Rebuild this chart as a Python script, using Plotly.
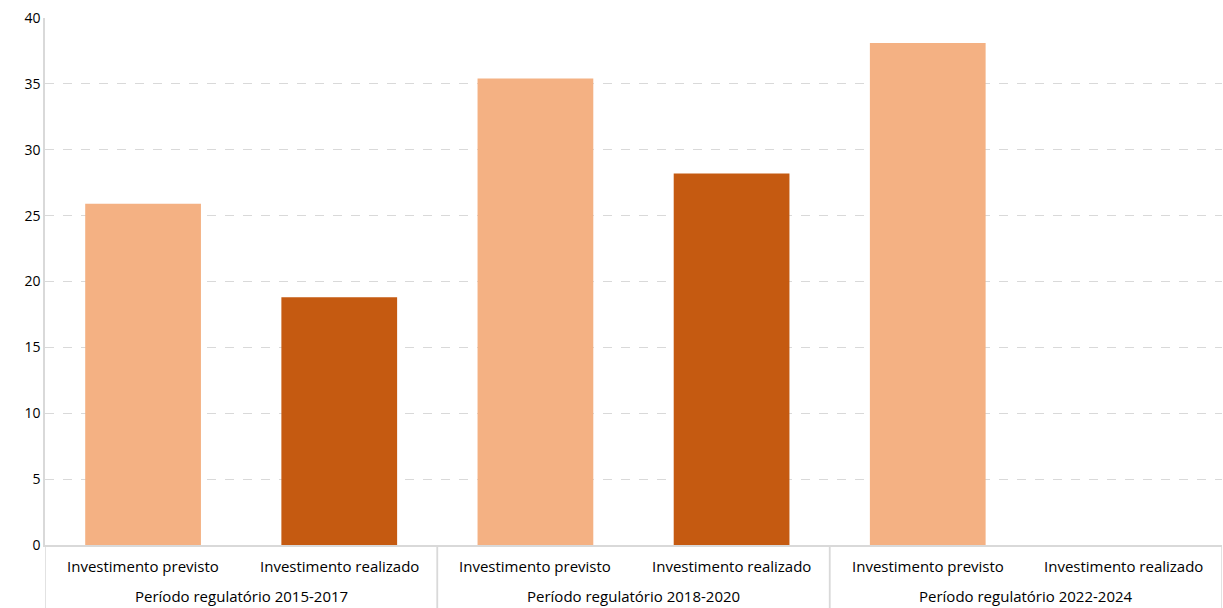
import plotly.graph_objects as go

periods = ["Período regulatório 2015-2017", "Período regulatório 2015-2017",
           "Período regulatório 2018-2020", "Período regulatório 2018-2020",
           "Período regulatório 2022-2024", "Período regulatório 2022-2024"]
kinds = ["Investimento previsto", "Investimento realizado"] * 3
values = [25.9, 18.8, 35.4, 28.2, 38.1, None]
colors = ["#F4B183", "#C55A11", "#F4B183", "#C55A11", "#F4B183", "#C55A11"]

keys = [f"{p}|{k}" for p, k in zip(periods, kinds)]

fig = go.Figure(go.Bar(x=keys, y=values, marker=dict(color=colors, line=dict(width=0)),
                       showlegend=False))

FONT = "Open Sans, sans-serif"
annotations = []
for i, k in enumerate(kinds):
    annotations.append(dict(x=keys[i], y=0, xref="x", yref="paper", text=k, showarrow=False,
                            yanchor="middle", yshift=-21, font=dict(family=FONT, size=15, color="#000")))
unique_periods = list(dict.fromkeys(periods))
shapes = []
for p in unique_periods:
    idx = [i for i, q in enumerate(periods) if q == p]
    center = sum(idx) / len(idx)
    annotations.append(dict(x=center, y=0, xref="x", yref="paper", text=p, showarrow=False,
                            yanchor="middle", yshift=-51, font=dict(family=FONT, size=15, color="#000")))
    for edge in (min(idx) - 0.5, max(idx) + 0.5):
        shapes.append(dict(type="line", xref="x", yref="paper", x0=edge, x1=edge,
                           y0=0, y1=-63 / 527, line=dict(color="#D9D9D9", width=1.5)))

fig.update_layout(
    width=1223, height=608,
    margin=dict(l=45, r=1, t=18, b=63),
    paper_bgcolor="white", plot_bgcolor="white",
    bargap=0.41,
    font=dict(family=FONT, size=14, color="#000000"),
    annotations=annotations, shapes=shapes,
)
fig.update_xaxes(showline=True, linecolor="#D9D9D9", linewidth=1.5, ticks="",
                 showticklabels=False, range=[-0.5, 5.5])
fig.update_yaxes(range=[0, 40], dtick=5, showline=True, linecolor="#D9D9D9", linewidth=1.5,
                 showgrid=True, gridcolor="#D9D9D9", griddash="dash", gridwidth=1,
                 zeroline=False, ticks="", tickfont=dict(size=14))

fig.write_html("out.html")
